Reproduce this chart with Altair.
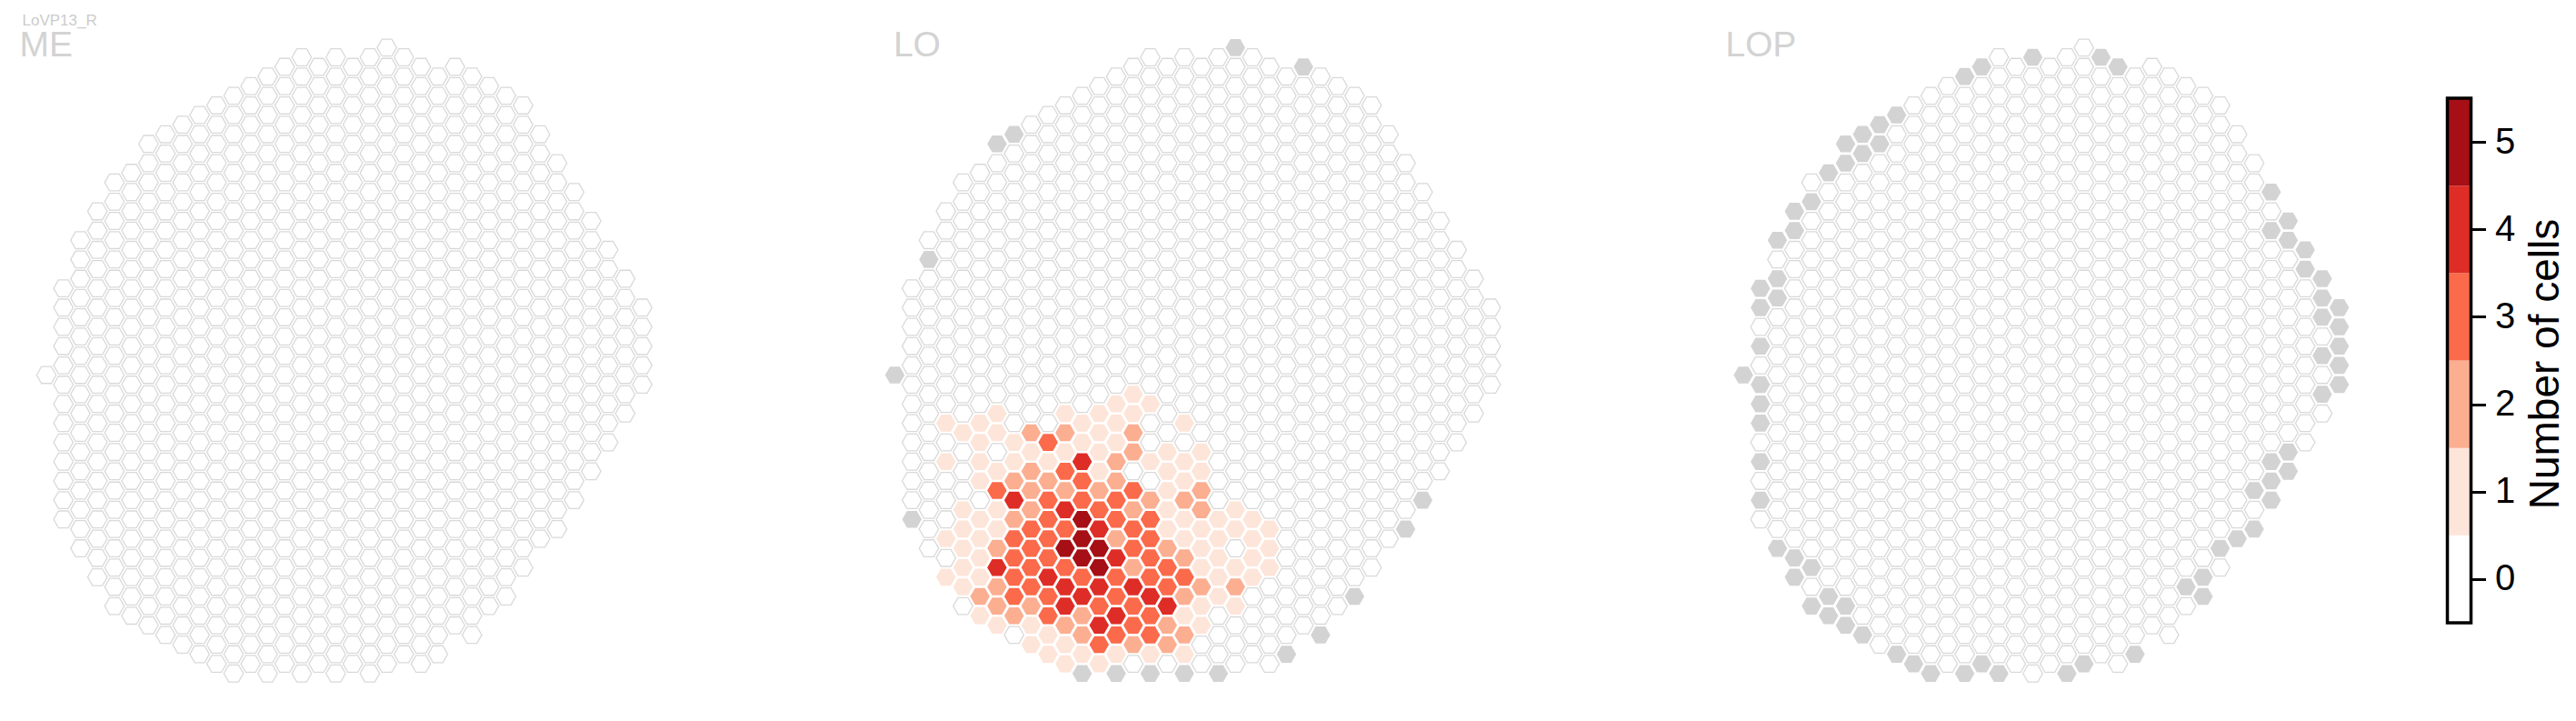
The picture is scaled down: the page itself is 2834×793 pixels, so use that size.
import altair as alt
import pandas as pd

FONT = "Liberation Sans"

# ---------------- data ----------------
# hexagonal eye-column grid: for every column k, first and last half-row index j (cells every 2 half-rows)
col_top = [34, 25, 20, 17, 14, 13, 10, 9, 8, 7, 6, 5, 4, 3, 2, 1, 2, 1, 2, 1, 0, 1, 2, 3, 2, 3,
           4, 5, 6, 9, 12, 15, 18, 21, 24, 27]
col_bot = [34, 49, 52, 55, 58, 59, 60, 61, 62, 63, 64, 65, 64, 65, 64, 65, 64, 65, 64, 65, 64, 63,
           64, 63, 60, 61, 58, 57, 54, 51, 50, 47, 44, 41, 38, 35]

# columns without a counterpart in the neuropil (grey)
lo_gray_k = [20, 24, 7, 6, 2, 0, 1, 31, 30, 27, 25, 23, 11, 13, 15, 17, 19]
lo_gray_j = [0, 2, 9, 10, 22, 34, 49, 47, 50, 57, 61, 63, 65, 65, 65, 65, 65]

lop_gray_k = [17, 21, 22, 14, 13, 9, 8, 8, 7, 7, 6, 6, 5, 4, 3, 3, 2, 2, 1, 2, 1, 1,
              31, 32, 31, 32, 33, 33, 34, 34, 35, 34, 35, 35, 34, 35,
              0, 35, 34, 1, 1, 1, 1, 1, 32, 31, 32, 31, 30, 31, 30, 29, 28, 27, 26, 27,
              23, 20, 19, 15, 14, 13, 11, 10, 9, 7, 6, 5, 6, 4, 5, 3, 4, 3, 2]
lop_gray_j = [1, 1, 2, 2, 3, 7, 8, 10, 9, 11, 10, 12, 13, 16, 17, 19, 20, 24, 25, 26, 27, 31,
              15, 18, 19, 20, 21, 23, 24, 26, 27, 28, 29, 31, 32, 33,
              34, 35, 36, 35, 37, 39, 43, 47, 42, 43, 44, 45, 46, 47, 50, 51, 52, 55, 56, 57,
              63, 64, 65, 65, 64, 65, 65, 64, 63, 61, 60, 59, 58, 58, 57, 55, 54, 53, 52]

# LO: number of cells per column (non-zero columns only)
lo_k = [14,
        13, 15,
        6, 10, 12, 14,
        3, 5, 11, 13, 17,
        4, 6, 8, 10, 12, 14,
        5, 7, 9, 11, 13,
        8, 10, 12, 14, 16, 18,
        3, 5, 7, 9, 11, 13, 15, 17,
        6, 8, 10, 12, 16, 18,
        5, 7, 9, 11, 13, 17,
        6, 8, 10, 12, 14, 16, 18,
        7, 9, 11, 13, 15, 17,
        4, 6, 8, 10, 12, 14, 16, 18, 20,
        5, 7, 9, 11, 13, 15, 17, 19, 21,
        4, 6, 8, 10, 12, 14, 16, 18, 20, 22,
        3, 5, 7, 9, 11, 13, 15, 17, 19, 21,
        4, 6, 8, 10, 12, 14, 16, 18, 22,
        5, 7, 9, 11, 13, 15, 17, 19, 21,
        4, 6, 8, 10, 12, 14, 16, 18, 20, 22,
        3, 5, 7, 9, 11, 13, 15, 17, 19, 21,
        4, 6, 8, 10, 12, 14, 16, 18, 20,
        5, 7, 9, 11, 13, 15, 17, 19,
        6, 8, 10, 12, 14, 16, 18, 20,
        5, 7, 9, 11, 13, 15, 17,
        6, 8, 10, 12, 14, 16, 18,
        9, 11, 13, 15, 17,
        8, 10, 12, 14, 16,
        9, 11, 13, 15, 17,
        10, 12]
lo_j = ([36] + [37] * 2 + [38] * 4 + [39] * 5 + [40] * 6 + [41] * 5 + [42] * 6 + [43] * 8 +
        [44] * 6 + [45] * 6 + [46] * 7 + [47] * 6 + [48] * 9 + [49] * 9 + [50] * 10 + [51] * 10 +
        [52] * 9 + [53] * 9 + [54] * 10 + [55] * 10 + [56] * 9 + [57] * 8 + [58] * 8 + [59] * 7 +
        [60] * 7 + [61] * 5 + [62] * 5 + [63] * 5 + [64] * 2)
lo_v = [1,
        1, 1,
        1, 1, 1, 1,
        1, 1, 1, 1, 1,
        1, 1, 2, 2, 1, 2,
        1, 1, 3, 1, 1,
        1, 1, 1, 2, 1, 1,
        1, 1, 1, 1, 4, 2, 1, 1,
        1, 2, 3, 1, 1, 1,
        1, 2, 2, 3, 2, 1,
        3, 2, 2, 2, 3, 1, 2,
        4, 3, 3, 3, 2, 2,
        1, 1, 2, 4, 3, 2, 1, 2, 1,
        1, 2, 3, 5, 3, 3, 1, 1, 1,
        1, 1, 3, 3, 4, 3, 1, 1, 1, 1,
        1, 1, 3, 3, 5, 2, 3, 1, 1, 1,
        1, 2, 3, 5, 5, 3, 2, 1, 1,
        1, 3, 3, 5, 4, 3, 2, 1, 1,
        1, 4, 3, 3, 5, 2, 3, 1, 1, 1,
        1, 1, 3, 4, 3, 3, 3, 3, 1, 1,
        1, 2, 3, 4, 4, 4, 3, 2, 2,
        2, 3, 3, 4, 3, 4, 2, 1,
        2, 2, 4, 3, 3, 4, 1, 1,
        1, 2, 3, 2, 4, 3, 1,
        1, 1, 2, 4, 3, 2, 1,
        1, 2, 3, 3, 2,
        1, 1, 3, 2, 2,
        1, 1, 1, 1, 1,
        1, 1]

panel_names = ["ME", "LO", "LOP"]
neuron_name = "LoVP13_R"
count_levels = [0, 1, 2, 3, 4, 5]
count_colors = ["#ffffff", "#fee5d9", "#fcae91", "#fb6a4a", "#de2d26", "#a50f15"]
GRAY = "#d3d3d3"

# one colour scale shared by the maps and the colour bar
CAT_DOMAIN = [str(v) for v in count_levels] + ["gray"]
CAT_RANGE = count_colors + [GRAY]
cat_scale = alt.Scale(domain=CAT_DOMAIN, range=CAT_RANGE)


def panel_frame(gray_k, gray_j, vk, vj, vv):
    gray = set(zip(gray_k, gray_j))
    vals = {(a, b): c for a, b, c in zip(vk, vj, vv)}
    rows = []
    for k, (t, b) in enumerate(zip(col_top, col_bot)):
        for j in range(t, b + 1, 2):
            cat = "gray" if (k, j) in gray else str(vals.get((k, j), 0))
            rows.append({"k": k, "j": j, "cat": cat})
    return pd.DataFrame(rows)


frames = {
    "ME": panel_frame([], [], [], [], []),
    "LO": panel_frame(lo_gray_k, lo_gray_j, lo_k, lo_j, lo_v),
    "LOP": panel_frame(lop_gray_k, lop_gray_j, [], [], []),
}

# ---------------- layout / style ----------------
PW, PH = 721, 760          # panel plot size
DX, DY = 18.73, 10.59      # px per column / per half-row
K0_PX, J0_PX = 43.0, 44.4  # px position of k=0 / j=0 inside the panel
xdom = [-K0_PX / DX, (PW - K0_PX) / DX]
ydom = [-J0_PX / DY, (PH - J0_PX) / DY]
HEX = "M-1,0L-0.5,-0.866L0.5,-0.866L1,0L0.5,0.866L-0.5,0.866Z"
HEX_SIZE = 462

title_pos = {"ME": 13.6, "LO": 41.4, "LOP": 23.2}


def hex_panel(name):
    base = alt.Chart(frames[name])
    enc = dict(
        x=alt.X("k:Q", scale=alt.Scale(domain=xdom, nice=False, zero=False), axis=None),
        y=alt.Y("j:Q", scale=alt.Scale(domain=ydom, nice=False, zero=False, reverse=True), axis=None),
    )
    empty = base.transform_filter("datum.cat == '0'").mark_point(
        shape=HEX, size=HEX_SIZE, filled=True, fill="white", stroke="#d9d9d9",
        strokeWidth=1.3, opacity=1).encode(**enc)
    full = base.transform_filter("datum.cat != '0'").mark_point(
        shape=HEX, size=HEX_SIZE, filled=True, opacity=1, strokeWidth=0).encode(
        color=alt.Color("cat:N", scale=cat_scale, legend=None), **enc)
    label = alt.Chart(pd.DataFrame({"t": [name]})).mark_text(
        align="left", baseline="alphabetic", fontSize=39, font=FONT, color=GRAY
    ).encode(text="t:N", x=alt.value(title_pos[name]), y=alt.value(53.7))
    layers = [empty, full, label]
    if name == "ME":
        layers.append(alt.Chart(pd.DataFrame({"t": [neuron_name]})).mark_text(
            align="left", baseline="alphabetic", fontSize=17, font=FONT, color="#cccccc"
        ).encode(text="t:N", x=alt.value(16.5), y=alt.value(19.7)))
    return alt.layer(*layers).properties(width=PW, height=PH)


panels = alt.hconcat(*[hex_panel(n) for n in panel_names], spacing=212.5)

# ---------------- colour bar ----------------
cb = alt.Chart(pd.DataFrame({"v": count_levels}))
cb_y = alt.Scale(domain=[-1.363, 6.54], nice=False, zero=False)
bands = cb.transform_calculate(
    lo="datum.v - 0.5", hi="datum.v + 0.5", cat="'' + datum.v"
).mark_rect().encode(
    y=alt.Y("lo:Q", scale=cb_y, axis=alt.Axis(
        orient="right", values=count_levels, format="d", domain=False, grid=False,
        ticks=True, tickColor="black", tickWidth=3, tickSize=16,
        labelFontSize=40, labelFont=FONT, labelColor="black", labelPadding=10,
        title="Number of cells", titleFontSize=46, titleFont=FONT, titleFontWeight="normal",
        titleColor="black", titleAngle=270, titleY=392, titlePadding=58)),
    y2="hi:Q",
    color=alt.Color("cat:N", scale=cat_scale, legend=None),
)
frame = cb.transform_aggregate(lo="min(v)", hi="max(v)").transform_calculate(
    lo="datum.lo - 0.5", hi="datum.hi + 0.5").mark_rect(
    fill="transparent", stroke="black", strokeWidth=3.5).encode(y=alt.Y("lo:Q", scale=cb_y), y2="hi:Q")
colorbar = alt.layer(bands, frame).properties(width=26, height=PH)

chart = alt.hconcat(panels, colorbar, spacing=94.5).properties(
    padding={"left": 0, "top": 0, "right": 0, "bottom": 0},
    background="white",
).configure_view(stroke=None)

chart.save("out.html", embed_options={"renderer": "svg", "actions": False})
